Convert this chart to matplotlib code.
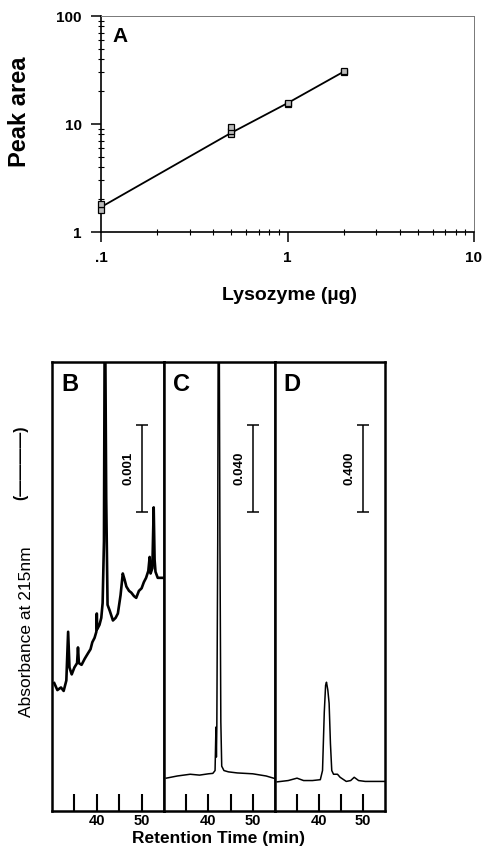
import numpy as np
import matplotlib
matplotlib.use("Agg")
import matplotlib.pyplot as plt
from matplotlib.ticker import NullFormatter, LogLocator

plt.rcParams['font.family'] = ['Liberation Sans', 'DejaVu Sans']

# Panel A: calibration, peak area vs lysozyme amount
lyso_ug = [0.1, 0.1, 0.5, 0.5, 0.5, 1.0, 1.0, 2.0, 2.0]
peak_area = [1.6, 1.8, 8.1, 8.6, 9.3, 15.4, 15.8, 30.5, 31.0]
fit_x = [0.1, 0.5, 1.0, 2.0]
fit_y = [1.7, 8.3, 15.6, 30.5]

# Panels B-D: chromatograms (retention time in min, absorbance in AU above panel floor)
b_time = [30.5, 31.2, 32.0, 32.6, 33.2, 33.6, 33.9, 34.4, 35.0, 35.6, 35.8, 36.0,
          36.6, 37.3, 38.0, 38.6, 39.0, 39.5, 39.9, 40.0, 40.1, 40.6, 41.0, 41.3,
          41.6, 41.8, 42.1, 42.4, 42.9, 43.6, 44.2, 44.7, 45.3, 45.8, 46.2, 46.6,
          47.2, 47.7, 48.3, 48.8, 49.4, 50.0, 50.5, 51.0, 51.5, 51.8, 52.0, 52.4,
          52.7, 52.9, 53.1, 53.6, 54.2, 55.0]
b_abs = [0.00147, 0.00139, 0.00142, 0.00138, 0.00150, 0.00206, 0.00165, 0.00157,
         0.00165, 0.00170, 0.00188, 0.00170, 0.00168, 0.00175, 0.00181, 0.00186,
         0.00194, 0.00199, 0.00206, 0.00227, 0.00209, 0.00214, 0.00222, 0.00239,
         0.00310, 0.00620, 0.00360, 0.00237, 0.00230, 0.00219, 0.00222, 0.00227,
         0.00248, 0.00273, 0.00266, 0.00258, 0.00253, 0.00251, 0.00247, 0.00245,
         0.00253, 0.00256, 0.00263, 0.00268, 0.00276, 0.00292, 0.00273, 0.00279,
         0.00349, 0.00289, 0.00275, 0.00268, 0.00268, 0.00268]

c_time = [30.5, 33.0, 35.9, 38.0, 40.0, 41.0, 41.5, 41.7, 41.8, 41.9, 42.1, 42.3,
          42.6, 42.8, 43.0, 43.5, 44.5, 46.5, 50.0, 53.0, 55.0]
c_abs = [0.0151, 0.0161, 0.0169, 0.0165, 0.0171, 0.0173, 0.0186, 0.0386, 0.0248,
         0.0392, 0.124, 0.310, 0.124, 0.041, 0.0206, 0.0186, 0.0180, 0.0175,
         0.0171, 0.0161, 0.0149]

d_time = [30.5, 33.0, 35.0, 36.5, 38.5, 40.3, 40.8, 41.2, 41.5, 41.7, 42.0, 42.3,
          42.6, 42.9, 43.3, 44.2, 44.8, 46.2, 47.2, 48.0, 49.0, 50.5, 55.0]
d_abs = [0.134, 0.140, 0.151, 0.140, 0.140, 0.144, 0.186, 0.454, 0.578, 0.592,
         0.557, 0.495, 0.310, 0.186, 0.169, 0.169, 0.155, 0.136, 0.140, 0.155,
         0.140, 0.136, 0.136]

panel_letters = ['B', 'C', 'D']
scale_bars = [0.001, 0.040, 0.400]
scale_labels = ['0.001', '0.040', '0.400']
trace_widths = [1.9, 1.1, 1.1]
time_ticks = [35, 40, 45, 50]
time_labels = ['', '40', '', '50']

W, H = 484, 857
fig = plt.figure(figsize=(W / 100, H / 100), dpi=100)


def rect(x0, y0, x1, y1):
    return [x0 / W, 1 - y1 / H, (x1 - x0) / W, (y1 - y0) / H]


# ---- Panel A ----
ax = fig.add_axes(rect(101, 16, 474, 232))
ax.set_xscale('log')
ax.set_yscale('log')
ax.set_xlim(0.1, 10)
ax.set_ylim(1, 100)
ax.plot(fit_x, fit_y, color='k', lw=1.3, clip_on=False)
ax.plot(lyso_ug, peak_area, ls='none', marker='s', ms=5, mfc='#bbbbbb',
        mec='k', mew=0.9, clip_on=False, zorder=4)
ax.set_xticks([0.1, 1, 10])
ax.set_xticklabels(['.1', '1', '10'])
ax.set_yticks([1, 10, 100])
ax.set_yticklabels(['1', '10', '100'])
ax.xaxis.set_minor_locator(LogLocator(base=10, subs=np.arange(2, 10)))
ax.yaxis.set_minor_locator(LogLocator(base=10, subs=np.arange(2, 10)))
ax.xaxis.set_minor_formatter(NullFormatter())
ax.yaxis.set_minor_formatter(NullFormatter())
ax.tick_params(which='major', direction='out', length=7, width=1.1, pad=7,
               labelsize=11)
ax.tick_params(which='minor', direction='inout', length=4, width=0.8)
for lab in ax.get_xticklabels() + ax.get_yticklabels():
    lab.set_fontweight('bold')
for s in ['left', 'bottom']:
    ax.spines[s].set_linewidth(1.2)
for s in ['top', 'right']:
    ax.spines[s].set_linewidth(0.7)
    ax.spines[s].set_color('#777777')
ax.text(0.03, 0.95, 'A', transform=ax.transAxes, fontsize=15, fontweight='bold',
        va='top', ha='left')
fig.text(20 / W, 1 - 112 / H, 'Peak area', rotation=90, fontsize=17,
         fontweight='bold', ha='center', va='center')
fig.text(290 / W, 1 - 296 / H, 'Lysozyme (\u00b5g)', fontsize=14,
         fontweight='bold', ha='center', va='center')

# ---- Panels B, C, D ----
edges = [52, 164, 275, 385]
traces = [(b_time, b_abs), (c_time, c_abs), (d_time, d_abs)]
for i in range(3):
    axp = fig.add_axes(rect(edges[i], 362, edges[i + 1], 811))
    t, a = traces[i]
    full = scale_bars[i] * 449 / 87
    axp.plot(t, a, color='k', lw=trace_widths[i])
    axp.set_xlim(30, 55)
    axp.set_ylim(0, full)
    y0 = 0.666 * full
    y1 = y0 + scale_bars[i]
    axp.errorbar([50], [(y0 + y1) / 2], yerr=[scale_bars[i] / 2], color='k',
                 lw=1.1, capsize=4, capthick=1.1)
    axp.text(47, (y0 + y1) / 2, scale_labels[i], rotation=90, fontsize=9.5,
             fontweight='bold', ha='center', va='center')
    axp.text(0.08, 0.975, panel_letters[i], transform=axp.transAxes,
             fontsize=17, fontweight='bold', ha='left', va='top')
    axp.set_yticks([])
    axp.set_xticks(time_ticks)
    axp.set_xticklabels(time_labels)
    axp.tick_params(axis='x', direction='in', length=12, width=1.5, pad=2,
                    labelsize=10.5)
    for lab in axp.get_xticklabels():
        lab.set_fontweight('bold')
    for s in axp.spines.values():
        s.set_linewidth(1.8)

fig.text(27 / W, 1 - 632 / H, 'Absorbance at 215nm', rotation=90, fontsize=12.5,
         ha='center', va='center')
fig.text(21 / W, 1 - 463 / H, '(\u2014\u2014\u2014\u2014)', rotation=90,
         fontsize=11.5, fontweight='bold', ha='center', va='center')
fig.text(218 / W, 1 - 838 / H, 'Retention Time (min)', fontsize=12.5,
         fontweight='bold', ha='center', va='center')

fig.savefig('out.png', dpi=100)
